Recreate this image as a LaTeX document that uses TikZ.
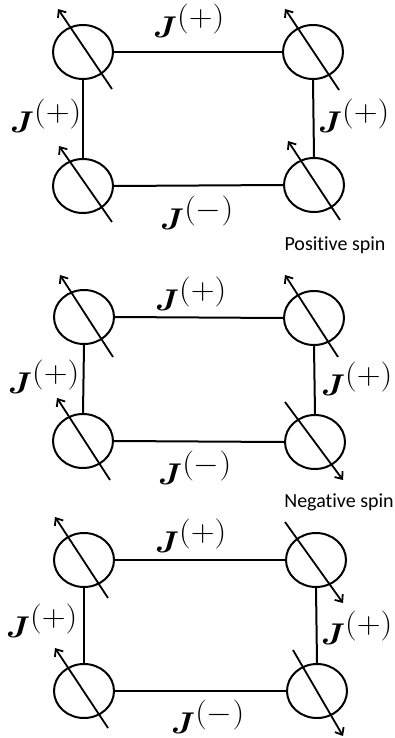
\RequirePackage{fix-cm}
\documentclass[tikz,border=0pt]{standalone}
\usepackage{bm}
\usepackage{fontspec}
\newfontfamily\labfont[Ligatures={NoCommon,NoRare}]{Carlito}
\usetikzlibrary{shapes.geometric,arrows.meta}
\tikzset{
  spin/.style={ellipse,draw,line width=2pt,minimum width=60pt,minimum height=54pt,inner sep=0pt},
  bond/.style={line width=2pt},
  spinarrow/.style={line width=1.8pt,-{Straight Barb[length=6pt,width=10pt,line width=1.8pt]}},
  jlab/.style={inner sep=0pt,xscale=1.1,transform shape,font=\fontsize{30}{34}\selectfont},
  txt/.style={inner sep=0pt,font=\labfont\fontsize{20}{24}\selectfont}
}
\newcommand{\Jp}{$\bm{J}^{\textstyle(+)}$}
\newcommand{\Jm}{$\bm{J}^{\textstyle(-)}$}
\begin{document}
\begin{tikzpicture}[x=1pt,y=-1pt]
\useasboundingbox (0,0) rectangle (395,738);
% ---------- panel 1 ----------
\node[spin] (a1) at (83,52) {};
\node[spin] (b1) at (313,52) {};
\node[spin] (c1) at (83,186) {};
\node[spin] (d1) at (314,185) {};
\draw[bond] (a1.east) -- (b1.west);
\draw[bond] (c1.east) -- (d1.west);
\draw[bond] (a1.south) -- (c1.north);
\draw[bond] (b1.south) -- (d1.north);
\draw[spinarrow] ([shift={(29,37)}]a1.center) -- ([shift={(-25,-43)}]a1.center);
\draw[spinarrow] ([shift={(26,38)}]b1.center) -- ([shift={(-28,-43)}]b1.center);
\draw[spinarrow] ([shift={(29,36)}]c1.center) -- ([shift={(-24,-40)}]c1.center);
\draw[spinarrow] ([shift={(26,35)}]d1.center) -- ([shift={(-26,-44)}]d1.center);
\node[jlab] (t1) at (189,21) {\Jp};
\node[jlab] (l1) at (46,116) {\Jp};
\node[jlab] (r1) at (354,116) {\Jp};
\node[jlab] (m1) at (197,213) {\Jm};
\node[txt] (p1) at (335,245) {Positive spin};
% ---------- panel 2 ----------
\node[spin] (a2) at (84,317) {};
\node[spin] (b2) at (314,318) {};
\node[spin] (c2) at (83,441) {};
\node[spin] (d2) at (315,442) {};
\draw[bond] (a2.east) -- (b2.west);
\draw[bond] (c2.east) -- (d2.west);
\draw[bond] (a2.south) -- (c2.north);
\draw[bond] (b2.south) -- (d2.north);
\draw[spinarrow] ([shift={(29,40)}]a2.center) -- ([shift={(-24,-42)}]a2.center);
\draw[spinarrow] ([shift={(24,39)}]b2.center) -- ([shift={(-29,-43)}]b2.center);
\draw[spinarrow] ([shift={(27,39)}]c2.center) -- ([shift={(-26,-43)}]c2.center);
\draw[spinarrow] ([shift={(-30,-40)}]d2.center) -- ([shift={(28,38)}]d2.center);
\node[jlab] (t2) at (191,294) {\Jp};
\node[jlab] (l2) at (44,377) {\Jp};
\node[jlab] (r2) at (357,379) {\Jp};
\node[jlab] (m2) at (195,468) {\Jm};
\node[txt] (n2) at (339,502) {Negative spin};
% ---------- panel 3 ----------
\node[spin] (a3) at (84,560) {};
\node[spin] (b3) at (316,560) {};
\node[spin] (c3) at (84,691) {};
\node[spin] (d3) at (317,691) {};
\draw[bond] (a3.east) -- (b3.west);
\draw[bond] (c3.east) -- (d3.west);
\draw[bond] (a3.south) -- (c3.north);
\draw[bond] (b3.south) -- (d3.north);
\draw[spinarrow] ([shift={(24,38)}]a3.center) -- ([shift={(-29,-43)}]a3.center);
\draw[spinarrow] ([shift={(-31,-38)}]b3.center) -- ([shift={(27,43)}]b3.center);
\draw[spinarrow] ([shift={(24,37)}]c3.center) -- ([shift={(-29,-43)}]c3.center);
\draw[spinarrow] ([shift={(-24,-41)}]d3.center) -- ([shift={(26,45)}]d3.center);
\node[jlab] (t3) at (191,536) {\Jp};
\node[jlab] (l3) at (42,621) {\Jp};
\node[jlab] (r3) at (357,628) {\Jp};
\node[jlab] (m3) at (208,717) {\Jm};
\end{tikzpicture}
\end{document}
